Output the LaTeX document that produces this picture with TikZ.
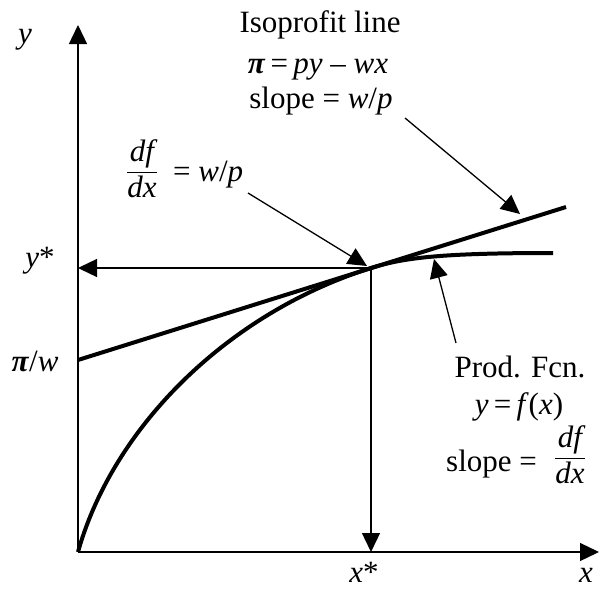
\documentclass[tikz,border=0pt]{standalone}
\usepackage{amsmath}
\usepackage{fontspec}
\setmainfont{Liberation Serif}
\usetikzlibrary{arrows.meta}
\begin{document}
\begin{tikzpicture}[x=1pt,y=-1pt,
  thinline/.style={line width=1.3pt},
  thickline/.style={line width=4pt},
  tipped/.style={-{Triangle[length=19pt,width=18pt]}},
  lbl/.style={inner sep=0pt,font=\fontsize{31}{36}\selectfont},
]
\useasboundingbox (0,0) rectangle (600,589);
% key points
\coordinate (O) at (78,552);
\coordinate (Ytop) at (78,25);
\coordinate (Xend) at (599,552);
\coordinate (T) at (371,268);
\coordinate (Ty) at (78,268);
\coordinate (Tx) at (371,552);
\coordinate (L1) at (78,360);
\coordinate (L2) at (566,207);
\coordinate (E) at (553,253);
% annotation arrow coordinates
\coordinate (isoS) at (405,118);
\coordinate (isoE) at (520,214);
\coordinate (dfS) at (248,193);
\coordinate (dfE) at (367,266);
\coordinate (prS) at (456,343);
\coordinate (prE) at (434,259);
% axes
\draw[thinline,tipped] (O) -- (Ytop);
\draw[thinline,tipped] (O) -- (Xend);
% drop lines
\draw[thinline,tipped] (T) -- (Ty);
\draw[thinline,tipped] (T) -- (Tx);
% isoprofit line and production function
\draw[thickline] (L1) -- (L2);
\draw[thickline] (O) .. controls (113,427) and (228,313) .. (T)
  .. controls (403,258) and (438,253) .. (E);
% annotation arrows
\draw[thinline,tipped] (isoS) -- (isoE);
\draw[thinline,tipped] (dfS) -- (dfE);
\draw[thinline,tipped] (prS) -- (prE);
% labels
\node[lbl,anchor=base] (ylab) at (25,43) {\textit{y}};
\node[lbl,anchor=base] (xlab) at (586,582) {\textit{x}};
\node[lbl,anchor=base] (ystar) at (40,267) {\textit{y}*};
\node[lbl,anchor=base] (xstar) at (364,582) {\textit{x}*};
\node[lbl,anchor=base] (piw) at (35,371) {\textbf{\textit{π}}/\textit{w}};
\node[lbl,anchor=base] (iso1) at (320,32) {Isoprofit line};
\node[lbl,anchor=base] (iso2) at (318,73) {\textbf{\textit{π}}\,=\,\textit{py} – \textit{wx}};
\node[lbl,anchor=base] (iso3) at (321,108) {slope = \textit{w}/\textit{p}};
\node[lbl] (dffrac) at (142,169) {$\dfrac{\textit{df}}{\textit{dx}}$};
\node[lbl,anchor=base west] (dfeq) at (173,181) {= \textit{w}/\textit{p}};
\node[lbl,anchor=base] (pf1) at (520,377) {Prod. Fcn.};
\node[lbl,anchor=base] (pf2) at (519,414) {\textit{y}\,=\,\textit{f}(\textit{x})};
\node[lbl,anchor=base west] (pf3) at (446,471) {slope =};
\node[lbl] (pffrac) at (570,455) {$\dfrac{\textit{df}}{\textit{dx}}$};
\end{tikzpicture}
\end{document}
